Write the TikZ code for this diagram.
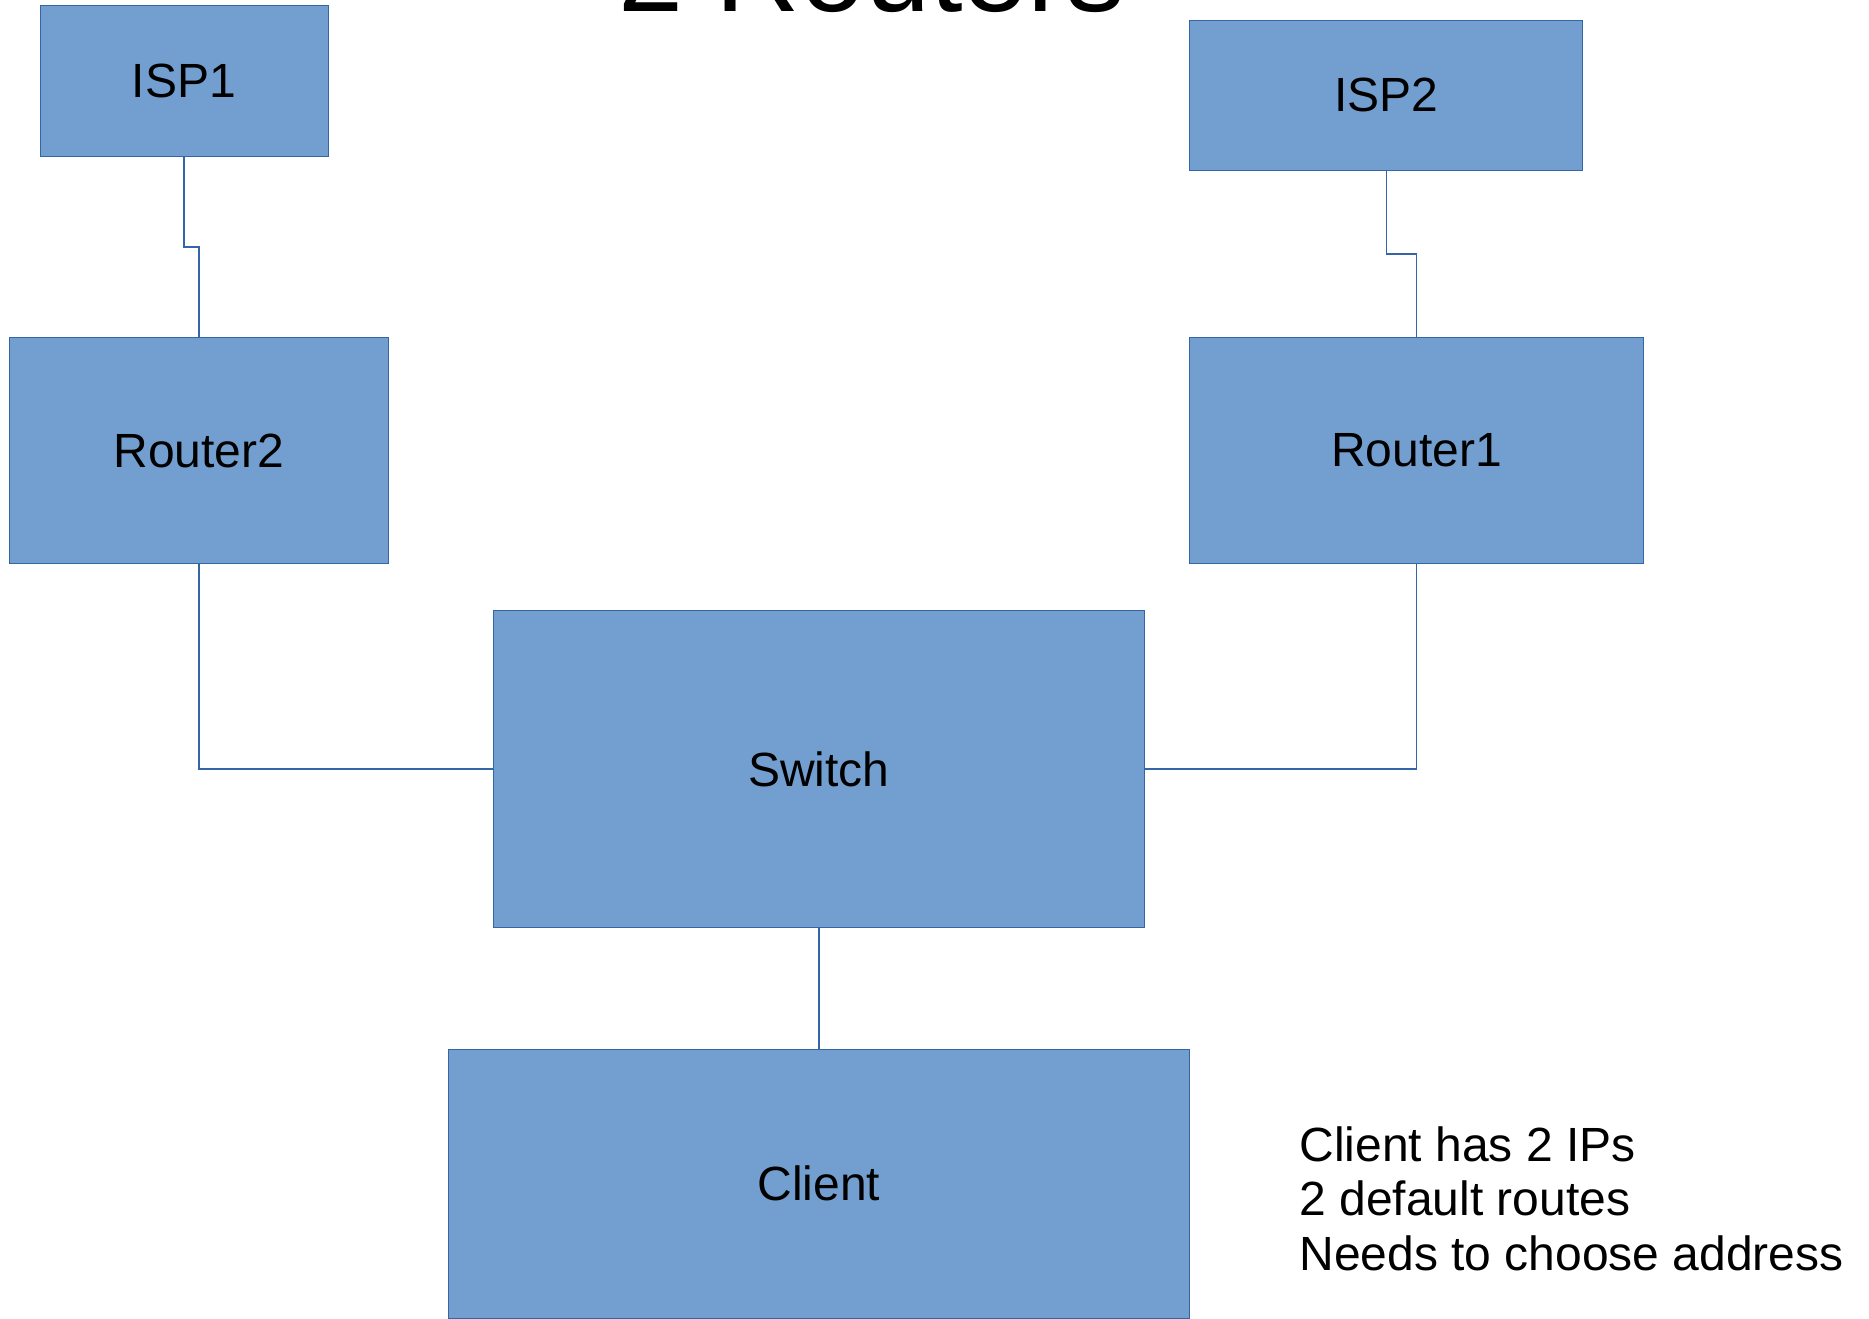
\documentclass[tikz,border=0pt]{standalone}
\usepackage{fontspec}
\setmainfont{Liberation Sans}
\usepackage{tikz}

\definecolor{boxfill}{HTML}{729FCF}
\definecolor{boxline}{HTML}{3465A4}

\begin{document}
\begin{tikzpicture}[x=0.5pt,y=-0.5pt,
    every node/.style={inner sep=0pt,font=\fontsize{24}{27.1}\selectfont},
    box/.style={rectangle,draw=boxline,fill=boxfill,line width=0.5pt},
    link/.style={draw=boxline,line width=0.7pt}]

    \useasboundingbox (0,0) rectangle (1869,1318);

    % Title (runs off the top edge)
    \node[anchor=base,font=\fontsize{58.5}{60}\selectfont] (title) at (872,11) {2 Routers};

    % Boxes: name/label/centre x/centre y/width/height
    \foreach \n/\t/\x/\y/\w/\h in {isp1/ISP1/184/80.5/288/151,
        isp2/ISP2/1386.3/95.4/393.3/150.2,
        router2/Router2/199/450.5/379/226.5,
        router1/Router1/1416.6/450.5/454/226.5,
        switch/Switch/818.9/768.9/650.8/317,
        client/Client/818.9/1183.6/741.4/269.2} {
      \node[box,minimum width=\w*0.5pt,minimum height=\h*0.5pt] (\n) at (\x,\y) {\t};
    }

    % Kinks in the uplinks
    \coordinate (kink1) at (0,247);
    \coordinate (kink2) at (0,254);

    % Uplinks to the ISPs
    \draw[link] (isp1.south) -- (isp1.south |- kink1) -| (router2.north);
    \draw[link] (isp2.south) -- (isp2.south |- kink2) -| (router1.north);

    % Routers to the switch, switch to the client
    \draw[link] (router2.south) |- (switch.west);
    \draw[link] (router1.south) |- (switch.east);
    \draw[link] (switch.south) -- (client.north);

    % Note (anchored on its last line)
    \node[anchor=base west,align=left] (note) at (1299,1270)
      {Client has 2 IPs\\2 default routes\\Needs to choose address};

  \end{tikzpicture}
\end{document}
